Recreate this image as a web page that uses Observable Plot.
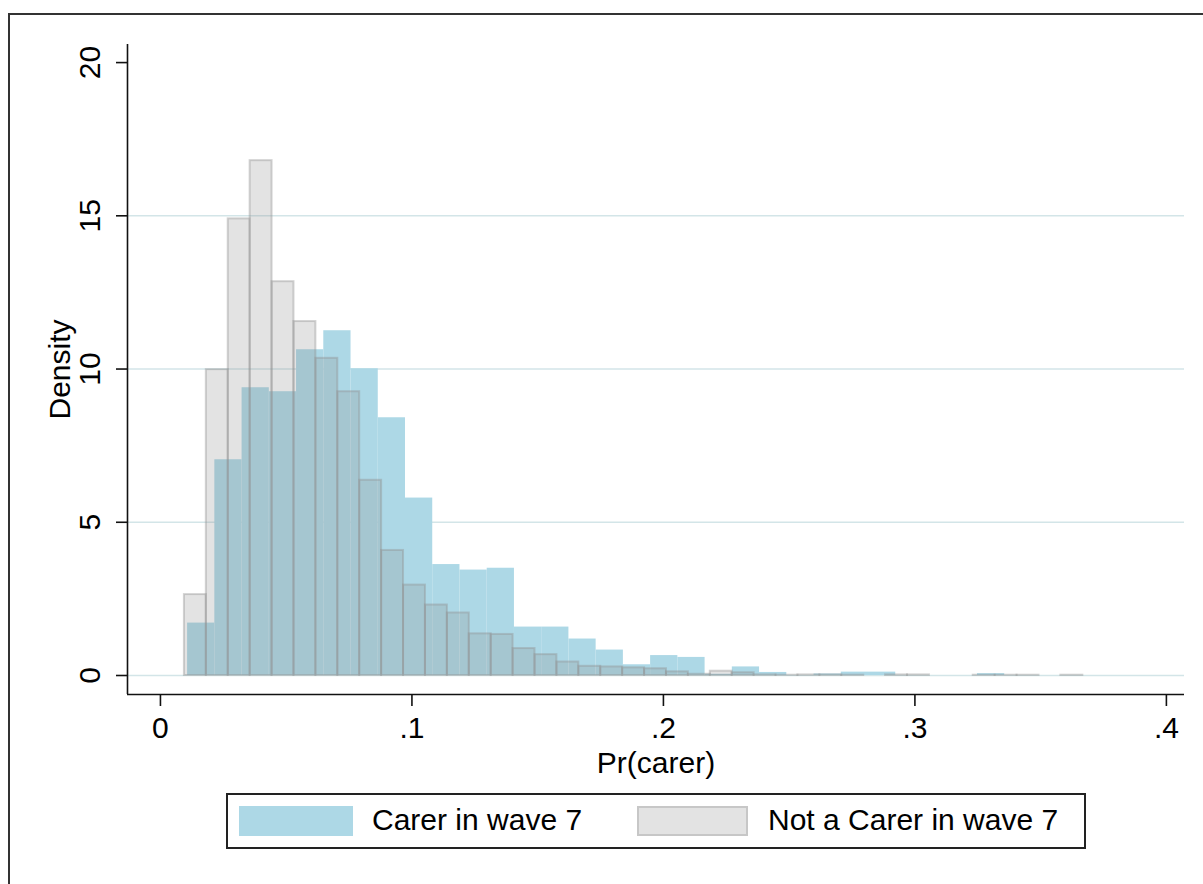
<!DOCTYPE html>
<html>
<head>
<meta charset="utf-8">
<script src="https://cdn.jsdelivr.net/npm/d3@7"></script>
<script src="https://cdn.jsdelivr.net/npm/@observablehq/plot@0.6"></script>
<style>
  html, body { margin: 0; padding: 0; background: #fff; overflow: hidden; }
  body { width: 1203px; height: 884px; position: relative; font-family: "Liberation Sans", Arial, sans-serif; }
  #frame { position: absolute; left: 8px; top: 13px; width: 1300px; height: 1000px;
           border-left: 2px solid #333; border-top: 2px solid #333; pointer-events: none; }
  #chart { position: absolute; left: 0; top: 0; }
  #legend { position: absolute; left: 226px; top: 793px; width: 856px; height: 52px;
            border: 2px solid #222; background: #fff; }
  .sw { position: absolute; top: 11px; height: 30px; }
  .lt { position: absolute; top: 8px; font-size: 30px; line-height: 34px; color: #000; white-space: nowrap; }
</style>
</head>
<body>
<div id="frame"></div>
<div id="chart"></div>
<div id="legend">
  <div class="sw" style="left:11px; width:114px; background:#add8e6;"></div>
  <div class="lt" id="lab0" style="left:144px;"></div>
  <div class="sw" style="left:409px; width:107px; background:rgba(145,145,145,0.25); border:2px solid rgba(145,145,145,0.35); height:26px;"></div>
  <div class="lt" id="lab1" style="left:540px;"></div>
</div>
<script>
// ---- data ----
const seriesNames = ["Carer in wave 7", "Not a Carer in wave 7"];

// Carer in wave 7 (blue): first bin start and bin width in Pr(carer) units
const carerStart = 0.0108;
const carerWidth = 0.01083;
const carerDensity = [1.71, 7.04, 9.39, 9.26, 10.63, 11.25, 10.01, 8.41, 5.79, 3.62,
                      3.44, 3.50, 1.58, 1.58, 1.19, 0.83, 0.35, 0.65, 0.59, 0.04,
                      0.28, 0.10, 0, 0.05, 0.11, 0.11, 0, 0, 0, 0.06];

// Not a Carer in wave 7 (grey)
const notStart = 0.00953;
const notWidth = 0.008713;
const notDensity = [2.64, 9.98, 14.9, 16.8, 12.85, 11.55, 10.35, 9.26, 6.37, 4.08,
                    2.95, 2.30, 2.04, 1.36, 1.34, 0.88, 0.68, 0.44, 0.30, 0.28,
                    0.25, 0.22, 0.12, 0.04, 0.14, 0.09, 0.02, 0.01, 0.02, 0.02,
                    0.01, 0, 0.02, 0.02, 0, 0, 0.01, 0.01, 0.01, 0, 0.01];

const xTicks = [0, 0.1, 0.2, 0.3, 0.4];
const xTickLabels = ["0", ".1", ".2", ".3", ".4"];
const yTicks = [0, 5, 10, 15, 20];
const yTickLabels = ["0", "5", "10", "15", "20"];
const yGridTicks = [0, 5, 10, 15];
const xDomain = [-0.0131, 0.4072];
const yDomain = [-0.62, 20.59];
const xTitle = "Pr(carer)";
const yTitle = "Density";

// ---- build bins ----
const carerBins = carerDensity.map((d, i) => ({x1: carerStart + i * carerWidth, x2: carerStart + (i + 1) * carerWidth, y: d})).filter(d => d.y > 0);
const notBins = notDensity.map((d, i) => ({x1: notStart + i * notWidth, x2: notStart + (i + 1) * notWidth, y: d})).filter(d => d.y > 0);

const chart = Plot.plot({
  width: 1203,
  height: 790,
  marginLeft: 127,
  marginRight: 19,
  marginTop: 44,
  marginBottom: 96,
  x: {domain: xDomain},
  y: {domain: yDomain},
  style: {fontFamily: "'Liberation Sans', Arial, sans-serif", fontSize: "30px", background: "transparent", color: "#000"},
  marks: [
    Plot.gridY(yGridTicks, {stroke: "#d3e5e8", strokeOpacity: 1, strokeWidth: 1.5}),
    Plot.rectY(carerBins, {x1: "x1", x2: "x2", y1: 0, y2: "y", fill: "#add8e6"}),
    Plot.rectY(notBins, {x1: "x1", x2: "x2", y1: 0, y2: "y", fill: "#919191", fillOpacity: 0.25,
                         stroke: "#919191", strokeOpacity: 0.4, strokeWidth: 2}),
    Plot.ruleX([xDomain[0]], {stroke: "#111", strokeWidth: 1.6}),
    Plot.ruleY([yDomain[0]], {stroke: "#111", strokeWidth: 1.6}),
    Plot.axisX({ticks: xTicks, tickFormat: d => xTickLabels[xTicks.indexOf(d)], tickSize: 12, tickPadding: 10,
                fontSize: 30, stroke: "#111", strokeWidth: 1.6, label: null}),
    Plot.axisY({ticks: yTicks, tickFormat: d => yTickLabels[yTicks.indexOf(d)], tickSize: 11, tickPadding: 17,
                tickRotate: -90, fontSize: 30, stroke: "#111", strokeWidth: 1.6, label: null}),
    Plot.text([xTitle], {frameAnchor: "bottom", dy: 69, fontSize: 30, textAnchor: "middle", lineAnchor: "middle"}),
    Plot.text([yTitle], {frameAnchor: "left", dx: -67, rotate: -90, fontSize: 30, textAnchor: "middle", lineAnchor: "middle"})
  ]
});
document.getElementById("chart").appendChild(chart);
document.getElementById("lab0").textContent = seriesNames[0];
document.getElementById("lab1").textContent = seriesNames[1];
</script>
</body>
</html>
